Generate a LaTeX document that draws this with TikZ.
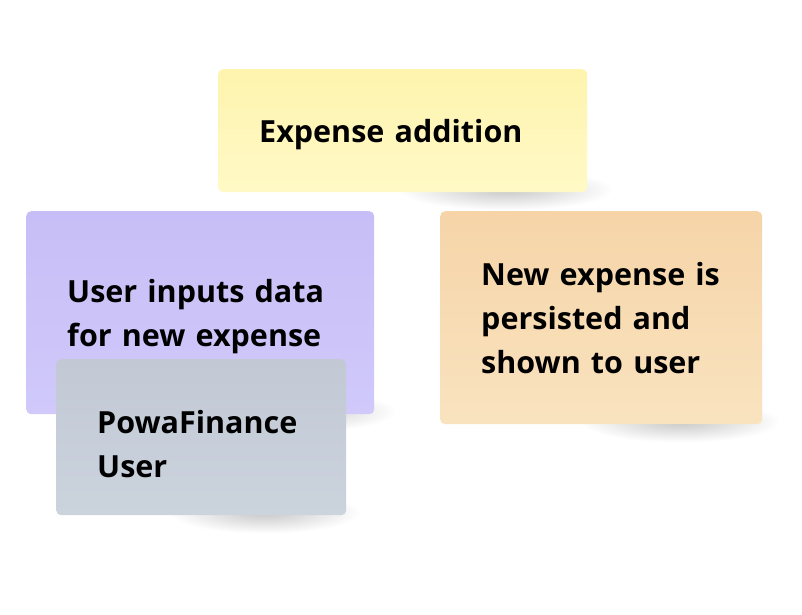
\documentclass[tikz,border=0pt]{standalone}
\usepackage{fontspec}
\setmainfont{Open Sans}
\usepackage{tikz}
\usetikzlibrary{backgrounds}
\definecolor{noteyellow}{HTML}{FFF9C6}
\definecolor{noteyellowtop}{HTML}{FEF4AE}
\definecolor{notepurple}{HTML}{D0C9FA}
\definecolor{notepurpletop}{HTML}{C8BEF7}
\definecolor{notegray}{HTML}{CBD3DD}
\definecolor{notegraytop}{HTML}{C2C9D5}
\definecolor{noteorange}{HTML}{F9E3BF}
\definecolor{noteorangetop}{HTML}{F6D4A8}
\newcommand{\notetop}[1]{\rule{0pt}{#1}}
\tikzset{
  note/.style={
    rectangle, rounded corners=5pt, anchor=north west, align=left,
    inner xsep=41pt, inner ysep=0pt, text width=#1,
    font=\bfseries\fontsize{30.5}{44}\selectfont},
  note/.default=280pt,
  lift/.style={inner color=black!22, outer color=white},
  }

\begin{document}
\begin{tikzpicture}[x=1pt,y=-1pt]
  \useasboundingbox (0,0) rectangle (802,614);

  % Title
  \node (title) [note=287pt, minimum height=123pt,
      top color=noteyellowtop, bottom color=noteyellow] at (218,69)
      {\notetop{31pt}Expense addition};

  % Steps
  \node (input) [note=266pt, minimum height=203pt,
      top color=notepurpletop, bottom color=notepurple] at (26,211)
      {\notetop{31pt}User inputs data\\for new expense};
  \node (result) [note=240pt, minimum height=213pt,
      top color=noteorangetop, bottom color=noteorange] at (440,211)
      {New expense is\\persisted and\\shown to user};

  % Actor
  \node (actor) [note=208pt, minimum height=156pt,
      top color=notegraytop, bottom color=notegray] at (56,359)
      {\notetop{36pt}PowaFinance\\User};

  % Shadows
  \begin{scope}[on background layer]
    \fill[white] (0,0) rectangle (802,614);
    \foreach \n/\r in {title/108,input/104,result/100,actor/96}
      \shade[lift] ([shift={(-82,-3)}]\n.south east) ellipse [x radius=\r, y radius=21];
  \end{scope}
\end{tikzpicture}
\end{document}
